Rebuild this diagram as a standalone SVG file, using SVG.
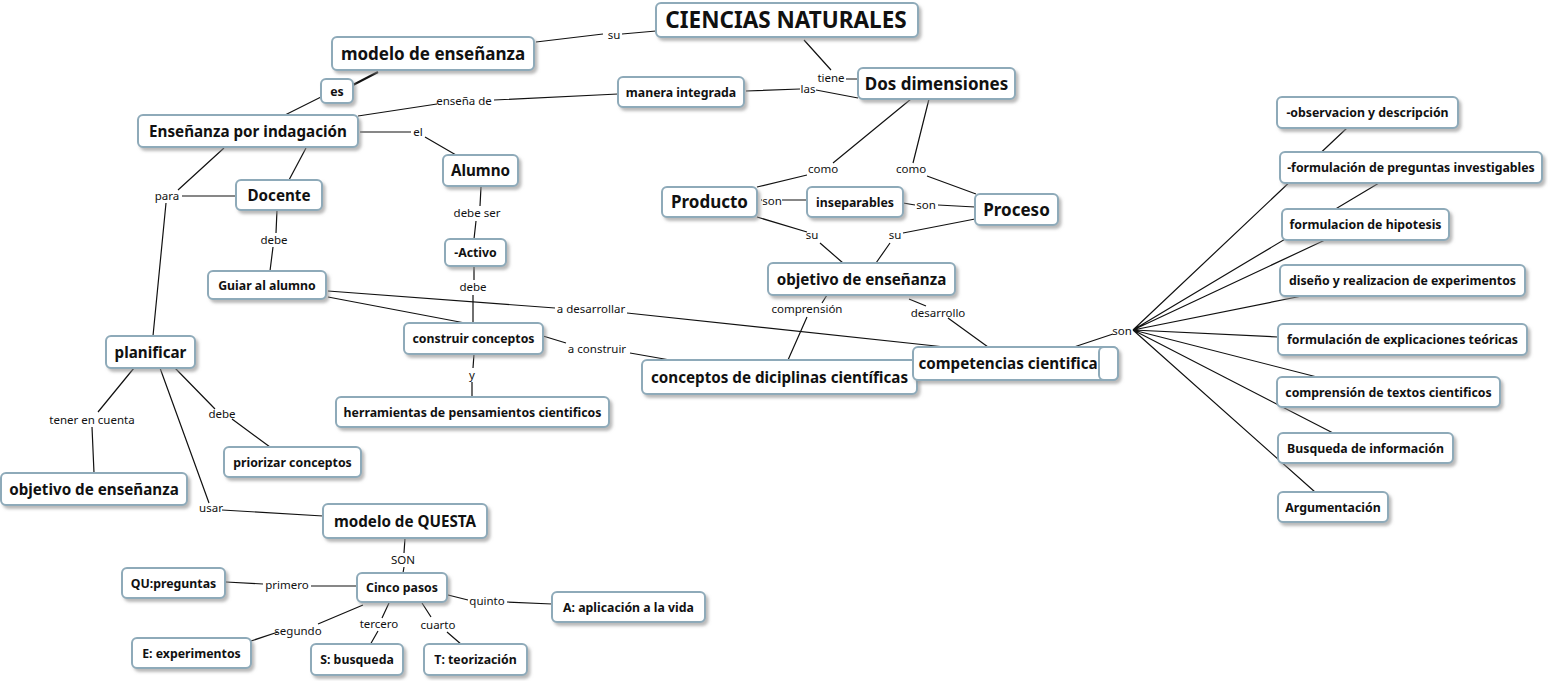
<svg xmlns="http://www.w3.org/2000/svg" width="1548" height="681" viewBox="0 0 1548 681">
<defs>
<filter id="sh" x="-10%" y="-20%" width="130%" height="160%">
<feDropShadow dx="2.5" dy="3" stdDeviation="1.5" flood-color="#8c8c8c" flood-opacity="0.6"/>
</filter>
<style>
.n rect{fill:#fff;stroke:#8eaab9;stroke-width:2;filter:url(#sh)}
.n text{font-family:"Noto Sans","Open Sans","DejaVu Sans",sans-serif;font-weight:bold;text-anchor:middle;fill:#111}
.s{font-size:12.3px}
.m{font-size:15.2px}
.b{font-size:17px}
.x{font-size:22.5px}
#links path{fill:none;stroke:#111;stroke-width:1.2}
#labels text{font-family:"Noto Sans","Open Sans","DejaVu Sans",sans-serif;font-size:11.5px;text-anchor:middle;fill:#111}
</style>
</defs>
<rect width="1548" height="681" fill="#fff"/>
<g id="links">
<path d="M536,42 L603,34 M622,34 L656,31"/>
<path d="M378,72 L353,85" style="stroke-width:2"/>
<path d="M321,97 L285,115"/>
<path d="M358,116 L437,104 M494,100 L618,94"/>
<path d="M746,91 L800,89 M816,90 L858,98"/>
<path d="M804,40 L831,70 M846,79 L858,79"/>
<path d="M360,132 L411,132 M425,137 L456,155"/>
<path d="M306,148 L289,180"/>
<path d="M224,148 L178,190 M182,196 L236,196 M166,203 L153,336"/>
<path d="M277,210 L276,233 M273,247 L270,271"/>
<path d="M481,187 L480,206 M476,221 L474,239"/>
<path d="M474,266 L474,280 M473,295 L473,323"/>
<path d="M328,297 L465,323"/>
<path d="M328,291 L555,308 M627,313 L945,347"/>
<path d="M543,336 L566,343 M630,353 L670,360"/>
<path d="M474,354 L473,368 M472,382 L472,397"/>
<path d="M911,99 L833,163 M807,175 L757,187"/>
<path d="M929,99 L913,163 M927,176 L976,194"/>
<path d="M761,200 L762,200 M782,200 L807,200"/>
<path d="M903,203 L915,205 M938,205 L975,207"/>
<path d="M757,217 L807,232 M820,243 L843,263"/>
<path d="M975,219 L903,233 M890,243 L876,263"/>
<path d="M827,295 L822,303 M807,317 L788,360"/>
<path d="M909,299 L926,306 M948,318 L988,347"/>
<path d="M1074,347 L1113,334"/>
<path d="M1133,330 L1347,128 M1133,330 L1379,183 M1133,330 L1325,240 M1133,330 L1302,296 M1133,330 L1278,337 M1133,330 L1317,377 M1133,330 L1333,433 M1133,330 L1315,492"/>
<path d="M134,368 L98,412 M92,427 L94,473"/>
<path d="M175,368 L215,409 M232,419 L270,447"/>
<path d="M160,368 L209,503 M222,510 L323,516"/>
<path d="M405,538 L404,553 M404,567 L403,573"/>
<path d="M226,582 L263,584 M311,586 L357,586"/>
<path d="M448,595 L468,600 M507,602 L552,604"/>
<path d="M251,641 L278,632 M318,624 L363,605"/>
<path d="M389,603 L382,618 M378,631 L370,645"/>
<path d="M422,603 L431,617 M447,632 L462,645"/>
</g>
<g id="labels">
<text x="614" y="39">su</text>
<text x="831" y="82">tiene</text>
<text x="808" y="93">las</text>
<text x="464" y="105">enseña de</text>
<text x="418" y="136">el</text>
<text x="167" y="200">para</text>
<text x="274" y="244">debe</text>
<text x="477" y="217">debe ser</text>
<text x="473" y="291">debe</text>
<text x="591" y="313">a desarrollar</text>
<text x="597" y="353">a construir</text>
<text x="472" y="379">y</text>
<text x="823" y="173">como</text>
<text x="911" y="173">como</text>
<text x="772" y="205">son</text>
<text x="926" y="209">son</text>
<text x="812" y="239">su</text>
<text x="895" y="239">su</text>
<text x="807" y="313">comprensión</text>
<text x="938" y="317">desarrollo</text>
<text x="1122" y="335">son</text>
<text x="92" y="424">tener en cuenta</text>
<text x="222" y="418">debe</text>
<text x="211" y="512">usar</text>
<text x="403" y="564">SON</text>
<text x="287" y="589">primero</text>
<text x="487" y="605">quinto</text>
<text x="298" y="635">segundo</text>
<text x="379" y="628">tercero</text>
<text x="438" y="629">cuarto</text>
</g>
<g id="n_ciencias" class="n"><rect x="656" y="3" width="262" height="34" rx="5"/><text class="x" x="786" y="28">CIENCIAS NATURALES</text></g>
<g id="n_modelo" class="n"><rect x="332" y="37" width="202" height="33" rx="5"/><text class="b" x="433" y="59.5">modelo de enseñanza</text></g>
<g id="n_es" class="n"><rect x="321" y="79" width="32" height="24" rx="5"/><text class="s" x="337" y="95.5">es</text></g>
<g id="n_manera" class="n"><rect x="618" y="77" width="126" height="30" rx="5"/><text class="s" x="681" y="96.5">manera integrada</text></g>
<g id="n_dos" class="n"><rect x="858" y="68" width="157" height="31" rx="5"/><text class="b" x="936.5" y="89.5">Dos dimensiones</text></g>
<g id="n_ensenanza" class="n"><rect x="138" y="115" width="220" height="32" rx="5"/><text class="m" x="248" y="136.5">Enseñanza por indagación</text></g>
<g id="n_docente" class="n"><rect x="236" y="180" width="86" height="30" rx="5"/><text class="m" x="279" y="200.5">Docente</text></g>
<g id="n_alumno" class="n"><rect x="443" y="155" width="75" height="31" rx="5"/><text class="m" x="480.5" y="176">Alumno</text></g>
<g id="n_producto" class="n"><rect x="662" y="187" width="95" height="30" rx="5"/><text class="b" x="709.5" y="208">Producto</text></g>
<g id="n_inseparables" class="n"><rect x="807" y="187" width="96" height="30" rx="5"/><text class="s" x="855" y="206.5">inseparables</text></g>
<g id="n_proceso" class="n"><rect x="975" y="194" width="83" height="31" rx="5"/><text class="b" x="1016.5" y="215.5">Proceso</text></g>
<g id="n_objetivo1" class="n"><rect x="768" y="263" width="187" height="32" rx="5"/><text class="m" x="861.5" y="284.5">objetivo de enseñanza</text></g>
<g id="n_activo" class="n"><rect x="445" y="239" width="61" height="27" rx="5"/><text class="s" x="475.5" y="257">-Activo</text></g>
<g id="n_guiar" class="n"><rect x="208" y="271" width="118" height="28" rx="5"/><text class="s" x="267" y="289.5">Guiar al alumno</text></g>
<g id="n_construir" class="n"><rect x="404" y="323" width="139" height="31" rx="5"/><text class="s" x="473.5" y="343">construir conceptos</text></g>
<g id="n_herramientas" class="n"><rect x="336" y="397" width="273" height="30" rx="5"/><text class="s" x="472.5" y="416.5">herramientas de pensamientos cientificos</text></g>
<g id="n_conceptos" class="n"><rect x="642" y="360" width="275" height="34" rx="5"/><text class="m" x="779.5" y="382.5">conceptos de diciplinas científicas</text></g>
<g id="n_competencias" class="n"><rect x="913" y="347" width="205" height="33" rx="5"/><text class="m" x="1008" y="369">competencias cientifica</text><rect x="1099" y="347" width="19" height="33" rx="5" style="filter:none"/></g>
<g id="n_obs" class="n"><rect x="1277" y="97" width="181" height="31" rx="5"/><text class="s" x="1367.5" y="117">-observacion y descripción</text></g>
<g id="n_preg" class="n"><rect x="1280" y="152" width="262" height="31" rx="5"/><text class="s" x="1411" y="172">-formulación de preguntas investigables</text></g>
<g id="n_hip" class="n"><rect x="1282" y="209" width="167" height="31" rx="5"/><text class="s" x="1365.5" y="229">formulacion de hipotesis</text></g>
<g id="n_dis" class="n"><rect x="1280" y="265" width="245" height="31" rx="5"/><text class="s" x="1402.5" y="285">diseño y realizacion de experimentos</text></g>
<g id="n_expl" class="n"><rect x="1278" y="324" width="249" height="31" rx="5"/><text class="s" x="1402.5" y="344">formulación de explicaciones teóricas</text></g>
<g id="n_compr" class="n"><rect x="1277" y="377" width="223" height="30" rx="5"/><text class="s" x="1388.5" y="396.5">comprensión de textos cientificos</text></g>
<g id="n_busq" class="n"><rect x="1278" y="433" width="175" height="30" rx="5"/><text class="s" x="1365.5" y="452.5">Busqueda de información</text></g>
<g id="n_arg" class="n"><rect x="1278" y="492" width="110" height="30" rx="5"/><text class="s" x="1333" y="511.5">Argumentación</text></g>
<g id="n_planificar" class="n"><rect x="106" y="336" width="89" height="32" rx="5"/><text class="m" x="150.5" y="357.5">planificar</text></g>
<g id="n_objetivo2" class="n"><rect x="1" y="473" width="186" height="32" rx="5"/><text class="m" x="94" y="494.5">objetivo de enseñanza</text></g>
<g id="n_priorizar" class="n"><rect x="224" y="447" width="137" height="30" rx="5"/><text class="s" x="292.5" y="466.5">priorizar conceptos</text></g>
<g id="n_questa" class="n"><rect x="323" y="504" width="164" height="34" rx="5"/><text class="m" x="405" y="526.5">modelo de QUESTA</text></g>
<g id="n_cinco" class="n"><rect x="357" y="573" width="90" height="29" rx="5"/><text class="s" x="402" y="592">Cinco pasos</text></g>
<g id="n_qu" class="n"><rect x="122" y="568" width="103" height="30" rx="5"/><text class="s" x="173.5" y="587.5">QU:preguntas</text></g>
<g id="n_a" class="n"><rect x="552" y="592" width="153" height="30" rx="5"/><text class="s" x="628.5" y="611.5">A: aplicación a la vida</text></g>
<g id="n_e" class="n"><rect x="132" y="638" width="119" height="30" rx="5"/><text class="s" x="191.5" y="657.5">E: experimentos</text></g>
<g id="n_s" class="n"><rect x="311" y="644" width="92" height="31" rx="5"/><text class="s" x="357" y="664">S: busqueda</text></g>
<g id="n_t" class="n"><rect x="424" y="644" width="103" height="31" rx="5"/><text class="s" x="475.5" y="664">T: teorización</text></g>
</svg>
